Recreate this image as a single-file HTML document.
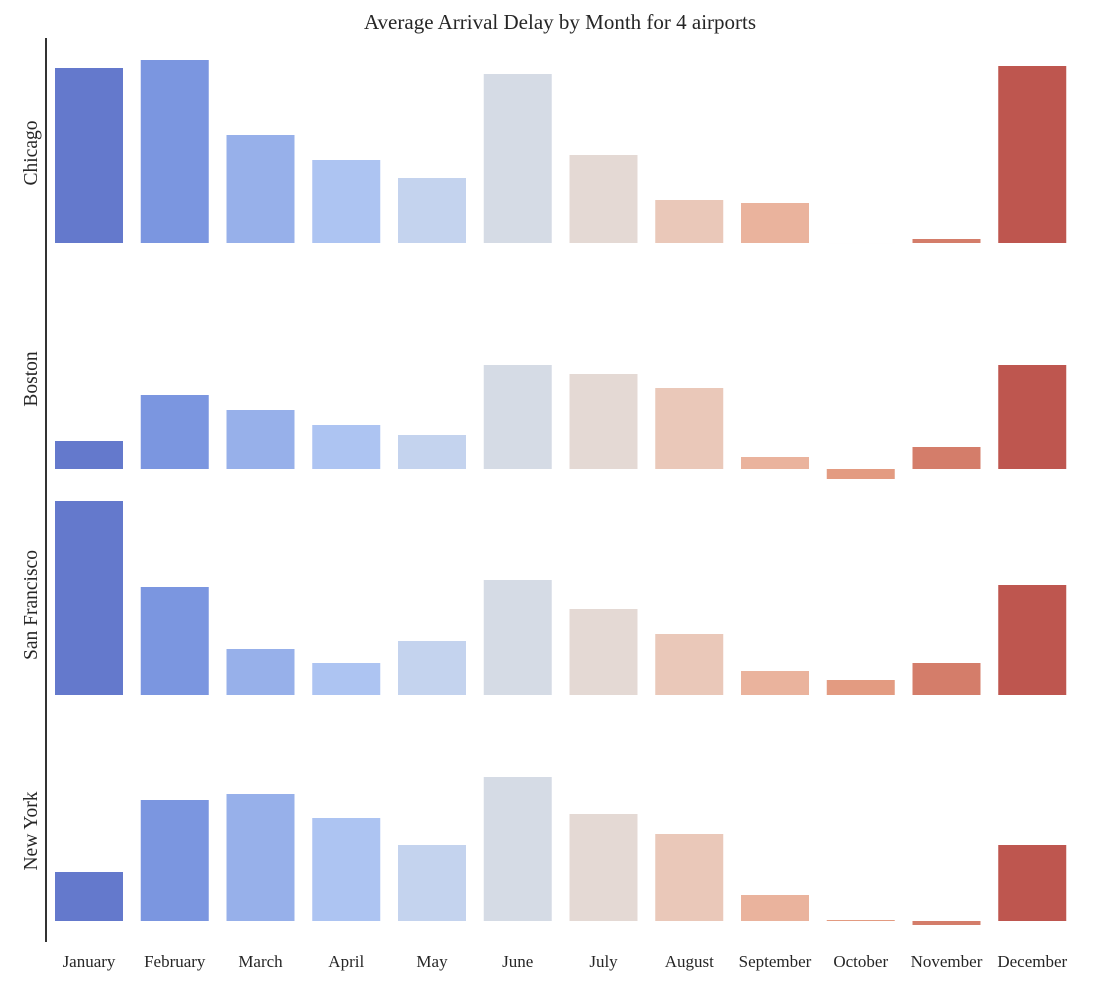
<!DOCTYPE html>
<html><head><meta charset="utf-8"><style>
html,body{margin:0;padding:0;background:#fff;}
svg{display:block;font-family:"Liberation Serif","DejaVu Serif",serif;}
</style></head><body>
<svg id="chart" width="1100" height="985" viewBox="0 0 1100 985">
<text x="560" y="29" text-anchor="middle" font-size="21" fill="#262626">Average Arrival Delay by Month for 4 airports</text>
<line x1="46" y1="38" x2="46" y2="942" stroke="#333" stroke-width="2"/>
</svg>
<script>
const months = ["January","February","March","April","May","June","July","August","September","October","November","December"];
const airports = ["Chicago","Boston","San Francisco","New York"];
const chicagoDelays = [17.5,18.3,10.8,8.3,6.5,16.9,8.8,4.3,4.0,0,0.4,17.7];
const bostonDelays = [2.8,7.4,5.9,4.4,3.4,10.4,9.5,8.1,1.2,-1.0,2.2,10.4];
const sanFranciscoDelays = [19.4,10.8,4.6,3.2,5.4,11.5,8.6,6.1,2.4,1.5,3.2,11.0];
const newYorkDelays = [4.9,12.1,12.7,10.3,7.6,14.4,10.7,8.7,2.6,0.1,-0.4,7.6];
const colors = ["#6479cc","#7b96e0","#97b0ea","#adc4f2","#c4d3ee","#d5dbe5","#e4d9d4","#eac8b9","#eab39d","#e39b81","#d47d6a","#be564f"];

const series=[chicagoDelays,bostonDelays,sanFranciscoDelays,newYorkDelays];
const baselines=[243,469,695,921];
const pxPerUnit=10;
const x0=55, step=85.75, barW=68;
function xScale(i){return x0+i*step;}
function yScale(p,v){return baselines[p]-v*pxPerUnit;}
const svg=document.getElementById('chart');
const NS="http://www.w3.org/2000/svg";
series.forEach((vals,p)=>{
  const g=document.createElementNS(NS,'g');
  
  
  vals.forEach((v,i)=>{
    const r=document.createElementNS(NS,'rect');
    const y1=yScale(p,v), y2=baselines[p];
    r.setAttribute('x',xScale(i));
    r.setAttribute('y',Math.min(y1,y2));
    r.setAttribute('width',barW);
    r.setAttribute('height',Math.max(Math.abs(y2-y1),0.01));
    r.setAttribute('fill',colors[i]);
    
    
    g.appendChild(r);
  });
  const t=document.createElementNS(NS,'text');
  const cy=baselines[p]-90;
  t.setAttribute('x',37);t.setAttribute('y',cy);
  t.setAttribute('transform','rotate(-90 37 '+cy+')');
  t.setAttribute('text-anchor','middle');
  t.setAttribute('font-size','19.5');t.setAttribute('fill','#262626');
  t.textContent=airports[p];
  
  
  g.appendChild(t);
  svg.appendChild(g);
});
months.forEach((m,i)=>{
  const t=document.createElementNS(NS,'text');
  t.setAttribute('x',xScale(i)+barW/2);t.setAttribute('y',967);
  t.setAttribute('text-anchor','middle');t.setAttribute('font-size','17');t.setAttribute('fill','#262626');
  t.textContent=m;
  
  
  svg.appendChild(t);
});
</script>
</body></html>
